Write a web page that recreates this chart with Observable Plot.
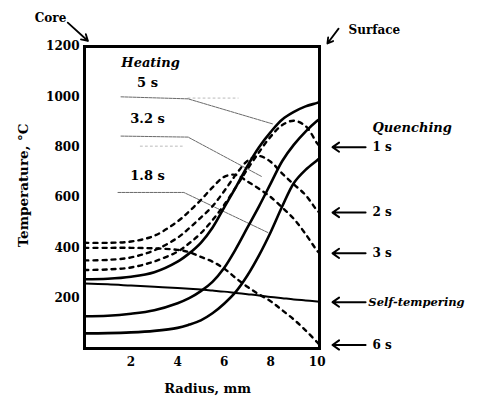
<!DOCTYPE html>
<html><head><meta charset="utf-8">
<script src="https://cdn.jsdelivr.net/npm/d3@7"></script>
<script src="https://cdn.jsdelivr.net/npm/@observablehq/plot@0.6"></script>
<style>body{margin:0;background:#fff}</style>
</head><body><div id="chart"></div>
<script>
// Radius grid (mm) shared by all temperature profiles
const radius = [0, 1, 2, 3, 4, 4.5, 5, 5.5, 6, 6.5, 7, 7.5, 8, 8.5, 9, 9.5, 10, 10.1];

// Heating profiles (solid), °C
const heat5s  = [275, 277, 285, 303, 345, 378, 420, 480, 560, 640, 725, 800, 860, 910, 940, 962, 976, 980];
const heat32s = [128, 130, 138, 152, 180, 200, 228, 265, 320, 395, 480, 565, 655, 745, 810, 862, 905, 912];
const heat18s = [60, 61, 64, 70, 82, 95, 112, 140, 178, 225, 290, 370, 462, 565, 658, 710, 748, 756];

// Quenching profiles (dashed), °C
const quench1s = [312, 314, 322, 346, 385, 418, 458, 510, 570, 640, 712, 780, 842, 888, 905, 884, 815, 804];
const quench2s = [350, 352, 362, 390, 440, 478, 520, 565, 625, 690, 745, 765, 742, 695, 652, 610, 548, 540];
const quench3s = [420, 420, 425, 448, 505, 545, 590, 640, 682, 690, 664, 635, 602, 560, 515, 455, 388, 378];
const quench6s = [400, 400, 400, 398, 392, 383, 364, 345, 318, 280, 245, 215, 188, 152, 115, 72, 25, 15];

// Self-tempering profile (solid thin)
const selfTemper = [258, 255, 250, 245, 240, 237, 234, 230, 226, 221, 216, 211, 205, 200, 195, 191, 187, 186];

// Axis ticks
const xTicks = [2, 4, 6, 8, 10];
const yTicks = [200, 400, 600, 800, 1000, 1200];

// Heating labels and their leader lines
const heatLabels = ["5 s", "3.2 s", "1.8 s"];
const heatLabelT = [1057, 914, 687];
const leader5x = [1.57, 4.45, 8.1],  leader5t = [1000, 992, 892];
const leader32x = [1.57, 4.45, 7.6], leader32t = [844, 840, 684];
const leader18x = [1.44, 4.27, 7.9], leader18t = [620, 620, 460];
const faintX = [[4.45, 6.6], [2.4, 4.2]], faintT = [[995, 995], [804, 804]];

// Quenching labels at the surface
const quenchLabels = ["1 s", "2 s", "3 s", "Self-tempering", "6 s"];
const quenchT = [800, 540, 378, 184, 14];

const rows = (series, vals) => radius.map((r, i) => ({r, t: vals[i], series}));
const solids = [...rows("5 s", heat5s), ...rows("3.2 s", heat32s), ...rows("1.8 s", heat18s)];
const dashed = [...rows("1 s", quench1s), ...rows("2 s", quench2s), ...rows("3 s", quench3s), ...rows("6 s", quench6s)];
const tempering = rows("self", selfTemper);
const leaders = [
  ...leader5x.map((x, i) => ({x, t: leader5t[i], k: "5"})),
  ...leader32x.map((x, i) => ({x, t: leader32t[i], k: "3.2"})),
  ...leader18x.map((x, i) => ({x, t: leader18t[i], k: "1.8"}))
];
const faint = faintX.flatMap((xs, j) => xs.map((x, i) => ({x, t: faintT[j][i], k: j})));
const quench = quenchLabels.map((label, i) => ({label, t: quenchT[i]}));
const quenchTimes = quench.filter(d => d.label.length <= 4);
const quenchSelf = quench.filter(d => d.label.length > 4);

const font = "DejaVu Serif";
const chart = Plot.plot({
  width: 484, height: 400,
  marginLeft: 84, marginRight: 165, marginTop: 46, marginBottom: 52,
  style: {fontFamily: font, background: "#fff", color: "#000", fontSize: "12px", fontWeight: "bold", overflow: "visible"},
  x: {domain: [0, 10.1], ticks: xTicks, tickSize: 0, tickPadding: 9, tickFormat: d => String(d), label: null},
  y: {domain: [0, 1200], ticks: yTicks, tickSize: 0, tickPadding: 5, tickFormat: d => String(d), label: null},
  marks: [
    Plot.line(faint, {x: "x", y: "t", z: "k", stroke: "#aaa", strokeWidth: 0.8, strokeDasharray: "2,3"}),
    Plot.line(leaders, {x: "x", y: "t", z: "k", stroke: "#444", strokeWidth: 0.8, strokeDasharray: "3,1"}),
    Plot.line(tempering, {x: "r", y: "t", stroke: "#000", strokeWidth: 2, curve: "catmull-rom"}),
    Plot.line(dashed, {x: "r", y: "t", z: "series", stroke: "#000", strokeWidth: 2.4, strokeDasharray: "4,5", curve: "catmull-rom"}),
    Plot.line(solids, {x: "r", y: "t", z: "series", stroke: "#000", strokeWidth: 2.6, curve: "catmull-rom"}),
    Plot.frame({stroke: "#000", strokeWidth: 3}),
    Plot.text(["Heating"], {x: 2.84, y: 1136, text: d => d, fontStyle: "italic", fontWeight: "bold", fontSize: 13}),
    Plot.text(heatLabels, {x: 2.71, y: (d, i) => heatLabelT[i], text: d => d, fontWeight: "bold", fontSize: 13}),
    Plot.text(["Quenching"], {x: 12.38, y: 878, text: d => d, textAnchor: "start", fontStyle: "italic", fontWeight: "bold", fontSize: 13}),
    Plot.arrow(quench, {x1: 12.08, x2: 10.66, y1: "t", y2: "t", stroke: "#000", strokeWidth: 2, headLength: 6, headAngle: 70}),
    Plot.text(quenchTimes, {x: 12.38, y: "t", text: "label", textAnchor: "start", fontSize: 12, fontWeight: "bold"}),
    Plot.text(quenchSelf, {x: 12.2, y: "t", text: "label", textAnchor: "start", fontSize: 11.5, fontStyle: "italic", fontWeight: "bold"}),
    Plot.text(["Core"], {x: -1.46, y: 1311, text: d => d, fontWeight: "bold", fontSize: 12}),
    Plot.arrow([0], {x1: -0.72, y1: 1295, x2: 0.15, y2: 1222, stroke: "#000", strokeWidth: 1.8, headLength: 6}),
    Plot.text(["Surface"], {x: 11.35, y: 1263, text: d => d, textAnchor: "start", fontWeight: "bold", fontSize: 12}),
    Plot.arrow([0], {x1: 10.92, y1: 1271, x2: 10.44, y2: 1212, stroke: "#000", strokeWidth: 1.8, headLength: 6}),
    Plot.text(["Temperature, °C"], {x: -2.6, y: 648, text: d => d, rotate: -90, fontWeight: "bold", fontSize: 13.5}),
    Plot.text(["Radius, mm"], {x: 5.29, y: -159, text: d => d, fontWeight: "bold", fontSize: 13})
  ]
});
document.getElementById("chart").appendChild(chart);
</script>
</body></html>
